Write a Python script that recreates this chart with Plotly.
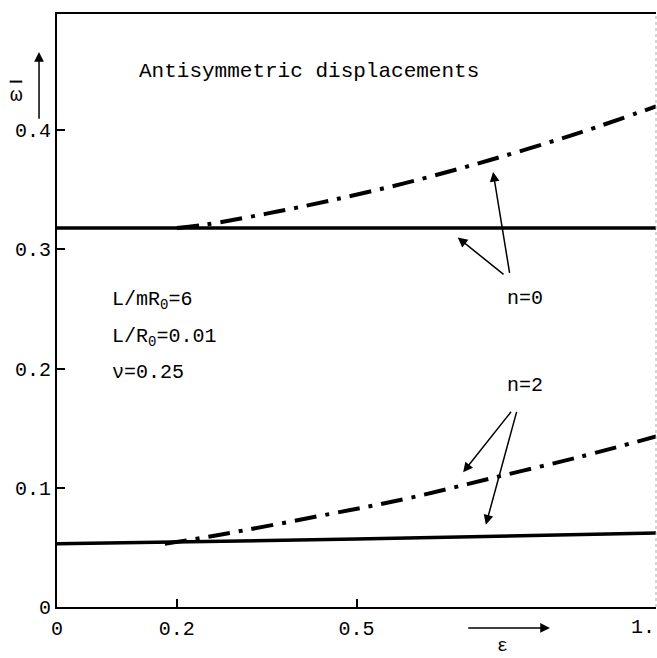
import plotly.graph_objects as go

# n=0 curves
eps_n0_solid = [0.0, 1.0]
w_n0_solid = [0.318, 0.318]
eps_n0_dd = [0.2, 0.25, 0.35, 0.456, 0.584, 0.723, 0.873, 1.0]
w_n0_dd = [0.318, 0.321, 0.330, 0.341, 0.356, 0.375, 0.398, 0.42]

# n=2 curves
eps_n2_solid = [0.0, 0.5, 1.0]
w_n2_solid = [0.053, 0.057, 0.062]
eps_n2_dd = [0.18, 0.265, 0.455, 0.593, 0.733, 0.873, 1.0]
w_n2_dd = [0.053, 0.060, 0.078, 0.092, 0.109, 0.126, 0.143]

x_tickvals = [0, 0.2, 0.5, 1.0]
x_ticktext = ["0", "0.2", "0.5", "1."]
y_tickvals = [0, 0.1, 0.2, 0.3, 0.4]
y_ticktext = ["0", "0.1", "0.2", "0.3", "0.4"]

FONT = "Liberation Mono"
fig = go.Figure()
solid = dict(color="black", width=3.5)
dd = dict(color="black", width=4, dash="22px,9px,4px,9px")
fig.add_trace(go.Scatter(x=eps_n0_solid, y=w_n0_solid, mode="lines", line=solid))
fig.add_trace(go.Scatter(x=eps_n0_dd, y=w_n0_dd, mode="lines", line=dd, line_shape="spline"))
fig.add_trace(go.Scatter(x=eps_n2_solid, y=w_n2_solid, mode="lines", line=solid, line_shape="spline"))
fig.add_trace(go.Scatter(x=eps_n2_dd, y=w_n2_dd, mode="lines", line=dd, line_shape="spline"))

ann = []
def refs(domain):
    return ("x domain", "y domain") if domain else ("x", "y")
def txt(x, y, t, xanchor="center", yanchor="middle", size=20, angle=0, domain=False):
    xr, yr = refs(domain)
    ann.append(dict(x=x, y=y, xref=xr, yref=yr, text=t, showarrow=False,
                    xanchor=xanchor, yanchor=yanchor, textangle=angle,
                    font=dict(family=FONT, size=size, color="black")))
def arrow(x0, y0, x1, y1, domain=False):
    xr, yr = refs(domain)
    ann.append(dict(x=x1, y=y1, ax=x0, ay=y0, xref=xr, yref=yr, axref=xr, ayref=yr,
                    text="", showarrow=True, arrowhead=2, arrowsize=1.3, arrowwidth=1.5,
                    arrowcolor="black", standoff=0, startstandoff=0))

txt(0.134, 0.449, "Antisymmetric displacements", xanchor="left", size=21)
txt(0.088, 0.257, "L/mR<sub>0</sub>=6", xanchor="left")
txt(0.088, 0.226, "L/R<sub>0</sub>=0.01", xanchor="left")
txt(0.088, 0.197, "ν=0.25", xanchor="left")
txt(0.781, 0.259, "n=0")
txt(0.781, 0.186, "n=2")
arrow(0.756, 0.279, 0.728, 0.365)
arrow(0.748, 0.278, 0.669, 0.310)
arrow(0.760, 0.165, 0.678, 0.113)
arrow(0.768, 0.165, 0.716, 0.069)
# last x tick label, kept inside the page (right-aligned to the plot edge)
txt(1.002, -0.0354, x_ticktext[-1], xanchor="right", domain=True)
# axis labels (domain coordinates, outside the plot area)
txt(-0.068, 0.862, "ω", size=21, domain=True)
arrow(-0.030, 0.821, -0.030, 0.936, domain=True)
txt(0.743, -0.086, "ε", yanchor="bottom", size=18, domain=True)
arrow(0.684, -0.0354, 0.823, -0.0354, domain=True)

fig.update_layout(
    width=657, height=658,
    margin=dict(l=57, r=1, t=14, b=51, autoexpand=False),
    paper_bgcolor="white", plot_bgcolor="white",
    showlegend=False,
    annotations=ann,
    font=dict(family=FONT, size=20, color="black"),
    xaxis=dict(range=[0, 1.0], tickvals=x_tickvals,
               ticktext=x_ticktext[:-1] + [""],
               ticks="inside", ticklen=8, tickwidth=2, tickcolor="black",
               showline=True, linewidth=2, linecolor="black", mirror=True,
               showgrid=False, zeroline=False, ticklabelstandoff=2, automargin=False,
               tickfont=dict(family=FONT, size=20)),
    yaxis=dict(range=[0, 0.4975], tickvals=y_tickvals, ticktext=y_ticktext,
               ticks="inside", ticklen=8, tickwidth=2, tickcolor="black",
               showline=True, linewidth=2, linecolor="black", mirror=False,
               showgrid=False, zeroline=False, ticklabelstandoff=0, automargin=False,
               tickfont=dict(family=FONT, size=20)),
    shapes=[dict(type="line", xref="paper", yref="paper", x0=1, x1=1, y0=0, y1=1,
                 line=dict(color="#aaaaaa", width=1, dash="dot")),
            # macron over the omega of the y-axis label
            dict(type="line", xref="paper", yref="paper", x0=-0.079, x1=-0.058,
                 y0=0.886, y1=0.886, line=dict(color="black", width=2))],
)
fig.write_html("out.html", config={"displayModeBar": False},
               post_script="document.body.style.margin='0px';")
